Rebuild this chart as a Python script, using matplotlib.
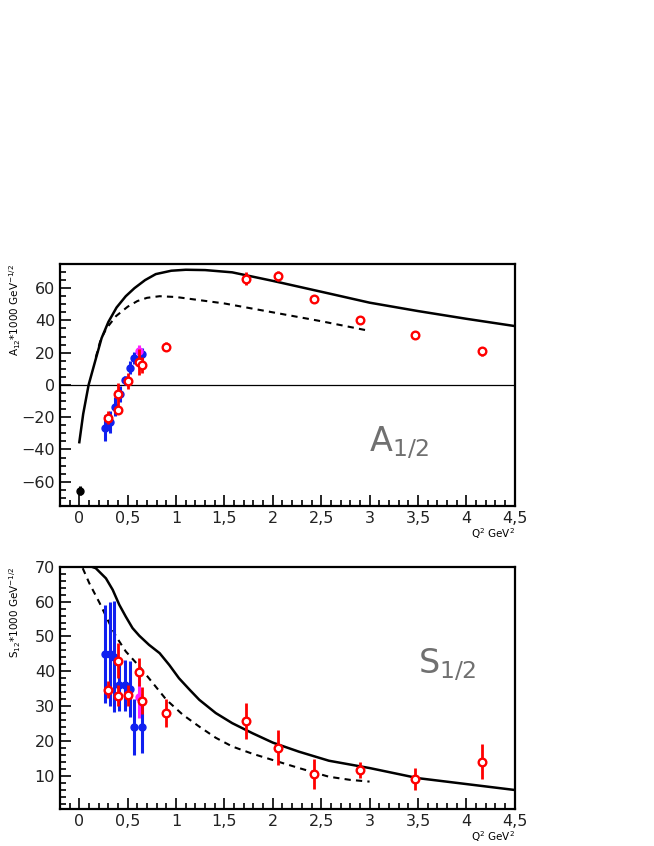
import matplotlib
matplotlib.use('Agg')
import matplotlib.pyplot as plt
from matplotlib.ticker import MultipleLocator, FuncFormatter

# ---- A1/2 panel ----
a_black_x = [0.01]
a_black_y = [-65.5]
a_black_e = [3.0]

a_blue_x = [0.27, 0.32, 0.37, 0.42, 0.47, 0.52, 0.57, 0.65]
a_blue_y = [-26.5, -23.0, -13.5, -5.5, 2.8, 10.8, 16.7, 19.0]
a_blue_e = [8.0, 7.0, 6.0, 5.0, 3.0, 4.0, 4.0, 4.0]

a_mag_x = [0.62]
a_mag_y = [21.0]
a_mag_e = [4.0]

a_red_x = [0.30, 0.40, 0.40, 0.50, 0.62, 0.65, 0.90, 1.72, 2.05, 2.43, 2.90, 3.47, 4.16]
a_red_y = [-20.4, -5.8, -15.4, 2.7, 14.0, 12.5, 23.8, 65.8, 67.7, 53.3, 40.2, 31.0, 20.8]
a_red_e = [4.0, 7.0, 2.0, 5.0, 8.0, 5.0, 3.0, 4.0, 3.0, 2.0, 2.0, 1.5, 3.0]

a_solid_x = [0.0, 0.04, 0.096, 0.165, 0.23, 0.3, 0.385, 0.48, 0.57, 0.68, 0.79, 0.95, 1.1, 1.3,
             1.58, 2.0, 2.58, 3.0, 3.5, 4.0, 4.5]
a_solid_y = [-35.5, -18.0, 0.0, 15.0, 29.0, 39.0, 48.0, 55.0, 60.0, 65.0, 68.7, 70.8, 71.4, 71.2,
             69.8, 64.5, 56.7, 51.0, 45.8, 41.0, 36.5]

a_dash_x = [0.17, 0.22, 0.28, 0.38, 0.5, 0.6, 0.7, 0.83, 1.0, 1.5, 2.0, 2.5, 3.0]
a_dash_y = [17.0, 28.0, 35.0, 42.7, 48.5, 52.0, 54.0, 55.0, 54.5, 50.5, 45.0, 39.5, 33.5]

# ---- S1/2 panel ----
s_blue_x = [0.27, 0.32, 0.36, 0.41, 0.47, 0.52, 0.57, 0.65]
s_blue_y = [44.9, 44.9, 44.2, 36.0, 36.0, 35.0, 23.9, 23.9]
s_blue_e = [14.0, 15.0, 16.0, 7.3, 7.3, 8.0, 8.0, 7.5]

s_mag_x = [0.62]
s_mag_y = [32.7]
s_mag_e = [6.0]

s_red_x = [0.30, 0.40, 0.40, 0.50, 0.62, 0.65, 0.90, 1.72, 2.05, 2.43, 2.90, 3.47, 4.16]
s_red_y = [34.7, 43.0, 33.0, 33.1, 39.9, 31.6, 27.9, 25.7, 18.1, 10.4, 11.7, 9.0, 14.0]
s_red_e = [2.5, 5.0, 3.0, 3.0, 4.0, 4.0, 4.0, 5.3, 5.0, 4.3, 2.3, 3.1, 5.0]

s_solid_x = [0.0, 0.1, 0.17, 0.275, 0.345, 0.413, 0.48, 0.55, 0.62, 0.72, 0.83, 0.93, 1.03, 1.14,
             1.24, 1.41, 1.58, 1.79, 2.0, 2.27, 2.58, 3.0, 3.5, 4.0, 4.5]
s_solid_y = [70.4, 70.3, 69.6, 66.7, 63.4, 59.1, 55.7, 52.4, 50.2, 47.6, 45.2, 41.8, 38.0, 34.7,
             31.8, 28.0, 25.1, 22.2, 19.5, 16.9, 14.3, 12.2, 9.3, 7.6, 5.9]

s_dash_x = [0.035, 0.103, 0.21, 0.31, 0.38, 0.48, 0.62, 0.76, 0.9, 1.07, 1.24, 1.41, 1.58, 1.79,
            2.0, 2.27, 2.58, 2.8, 3.0]
s_dash_y = [69.6, 65.3, 59.6, 53.8, 50.0, 45.7, 41.4, 36.6, 31.8, 27.5, 24.1, 20.9, 18.4, 16.3,
            14.5, 12.2, 9.7, 8.8, 8.3]

BLUE = '#1020f0'
RED = '#ff0000'
MAG = '#ff20ff'

plt.rcParams['font.family'] = ['DejaVu Sans']

fig = plt.figure(figsize=(6.54, 8.46), dpi=100)
ax1 = fig.add_axes([0.0917, 0.402, 0.6953, 0.286])
ax2 = fig.add_axes([0.0917, 0.044, 0.6953, 0.286])


def comma(v, pos):
    s = ('%g' % v).replace('.', ',')
    return s.replace('-', '\u2212')


def style(ax):
    ax.set_xlim(-0.2, 4.5)
    ax.xaxis.set_major_locator(MultipleLocator(0.5))
    ax.xaxis.set_minor_locator(MultipleLocator(0.1))
    ax.xaxis.set_major_formatter(FuncFormatter(comma))
    ax.tick_params(which='both', direction='in', top=False, right=False, labelsize=11.5,
                   labelcolor='#222222', width=1.2)
    ax.tick_params(which='major', length=8)
    ax.tick_params(which='minor', length=4)
    for sp in ax.spines.values():
        sp.set_linewidth(1.6)
    ax.text(1.0, -0.085, 'Q$^2$ GeV$^2$', transform=ax.transAxes, ha='right', va='top', fontsize=7.5)


def draw_points(ax, bx, by, be, mx, my, me, rx, ry, re):
    ax.errorbar(bx, by, yerr=be, fmt='o', color=BLUE, ms=5, elinewidth=2.2, capsize=0, zorder=3)
    ax.errorbar(mx, my, yerr=me, fmt='o', color=MAG, ms=5, elinewidth=2.2, capsize=0, zorder=3)
    ax.errorbar(rx, ry, yerr=re, fmt='o', color=RED, mfc='white', mec=RED, ms=5.5, mew=1.7,
                elinewidth=2.0, capsize=0, zorder=4)


# top panel
style(ax1)
ax1.set_ylim(-75, 75)
ax1.yaxis.set_major_locator(MultipleLocator(20))
ax1.yaxis.set_minor_locator(MultipleLocator(5))
ax1.yaxis.set_major_formatter(FuncFormatter(comma))
ax1.axhline(0, color='black', lw=0.9, zorder=1)
ax1.plot(a_solid_x, a_solid_y, color='black', lw=1.8, zorder=2)
ax1.plot(a_dash_x, a_dash_y, color='black', lw=1.5, ls=(0, (3, 2.5)), zorder=2)
ax1.errorbar(a_black_x, a_black_y, yerr=a_black_e, fmt='o', color='black', ms=5, elinewidth=2.2, capsize=0)
draw_points(ax1, a_blue_x, a_blue_y, a_blue_e, a_mag_x, a_mag_y, a_mag_e, a_red_x, a_red_y, a_red_e)
ax1.text(3.3, -36, 'A$_{1/2}$', fontsize=24, color='#707070', ha='center', va='center')
ax1.text(-0.098, 1.0, 'A$_{12}$*1000 GeV$^{-1/2}$', transform=ax1.transAxes, rotation=90,
         ha='center', va='top', fontsize=7.5)

# bottom panel
style(ax2)
ax2.set_ylim(0.5, 70)
ax2.yaxis.set_major_locator(MultipleLocator(10))
ax2.yaxis.set_minor_locator(MultipleLocator(2))
ax2.yaxis.set_major_formatter(FuncFormatter(comma))
ax2.plot(s_solid_x, s_solid_y, color='black', lw=1.8, zorder=2)
ax2.plot(s_dash_x, s_dash_y, color='black', lw=1.5, ls=(0, (3, 2.5)), zorder=2)
draw_points(ax2, s_blue_x, s_blue_y, s_blue_e, s_mag_x, s_mag_y, s_mag_e, s_red_x, s_red_y, s_red_e)
ax2.text(3.8, 41.8, 'S$_{1/2}$', fontsize=24, color='#707070', ha='center', va='center')
ax2.text(-0.098, 1.0, 'S$_{12}$*1000 GeV$^{-1/2}$', transform=ax2.transAxes, rotation=90,
         ha='center', va='top', fontsize=7.5)

fig.savefig('out.png', dpi=100)
